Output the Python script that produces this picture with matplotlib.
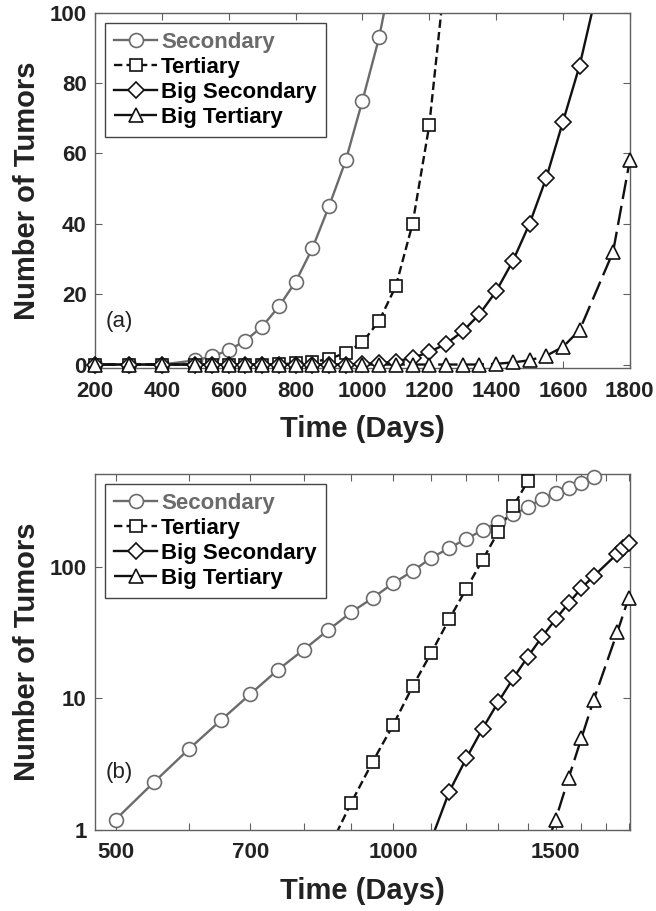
import numpy as np
import matplotlib
matplotlib.use("Agg")
import matplotlib.pyplot as plt
from matplotlib.lines import Line2D

plt.rcParams["font.family"] = ["Liberation Sans", "DejaVu Sans"]
plt.rcParams["lines.scale_dashes"] = False

# ---- data ----
sec_days = [200, 300, 400, 500, 550, 600, 650, 700, 750, 800, 850, 900, 950,
            1000, 1050, 1100, 1150, 1200, 1250, 1300, 1350, 1400, 1450, 1500,
            1550, 1600, 1650, 1700]
sec_vals = [0, 0, 0, 1.2, 2.3, 4.1, 6.8, 10.8, 16.5, 23.5, 33, 45, 58,
            75, 93, 117, 139, 163, 190, 220, 250, 285, 330, 365,
            400, 435, 485, 540]

ter_days = [200, 300, 400, 500, 550, 600, 650, 700, 750, 800, 850, 900, 950,
            1000, 1050, 1100, 1150, 1200, 1250, 1300, 1350, 1400]
ter_vals = [0, 0, 0, 0, 0, 0, 0, 0, 0.1, 0.3, 0.7, 1.6, 3.3,
            6.3, 12.4, 22.3, 40, 68, 113, 185, 290, 450]

bsec_days = [200, 300, 400, 500, 550, 600, 650, 700, 750, 800, 850, 900, 950,
             1000, 1050, 1100, 1150, 1200, 1250, 1300, 1350, 1400, 1450, 1500,
             1550, 1600, 1650, 1750, 1775, 1800]
bsec_vals = [0, 0, 0, 0, 0, 0, 0, 0, 0, 0, 0, 0, 0,
             0.2, 0.4, 0.85, 1.95, 3.5, 5.9, 9.4, 14.3, 20.8, 29.4, 40,
             53, 69, 85, 126, 138, 152]

bter_days = [200, 300, 400, 500, 550, 600, 650, 700, 750, 800, 850, 900, 950,
             1000, 1050, 1100, 1150, 1200, 1250, 1300, 1350, 1400, 1450, 1500,
             1550, 1600, 1650, 1750, 1800]
bter_vals = [0, 0, 0, 0, 0, 0, 0, 0, 0, 0, 0, 0, 0,
             0, 0, 0, 0, 0, 0, 0, 0, 0.2, 0.6, 1.2,
             2.5, 5.0, 9.8, 32, 58]

labels = ["Secondary", "Tertiary", "Big Secondary", "Big Tertiary"]

# ---- styles ----
GRAY = "#6b6b6b"
BLACK = "#111111"
SPINE = "#606060"
styles = [
    dict(color=GRAY, marker="o", ms=10, dashes=None),
    dict(color=BLACK, marker="s", ms=9, dashes=(6, 3)),
    dict(color=BLACK, marker="D", ms=8.5, dashes=None),
    dict(color=BLACK, marker="^", ms=10.5, dashes=(14, 5)),
]
series = [(sec_days, sec_vals), (ter_days, ter_vals),
          (bsec_days, bsec_vals), (bter_days, bter_vals)]


def draw(ax, ylo, yhi):
    for (d, v), st in zip(series, styles):
        d = np.asarray(d, float)
        v = np.asarray(v, float)
        ln, = ax.plot(d, v, color=st["color"], lw=1.7, zorder=2)
        if st["dashes"]:
            ln.set_dashes(st["dashes"])
        # markers are not clipped at the frame, only hidden when off-range
        keep = (v >= ylo) & (v <= yhi)
        ax.plot(d[keep], v[keep], ls="none", marker=st["marker"],
                ms=st["ms"], mfc="white", mec=st["color"], mew=1.2,
                clip_on=False, zorder=3)


def legend(ax):
    handles = []
    for st in styles:
        h = Line2D([], [], color=st["color"], lw=1.7, marker=st["marker"],
                   ms=st["ms"], mfc="white", mec=st["color"], mew=1.2)
        if st["dashes"]:
            h.set_dashes(st["dashes"])
        handles.append(h)
    leg = ax.legend(handles, labels, loc="upper left",
                    prop=dict(size=16, weight="bold"),
                    handlelength=1.9, handletextpad=0.2, labelspacing=0.18,
                    borderpad=0.42, borderaxespad=0.45, fancybox=False,
                    framealpha=1, edgecolor="#444444")
    leg.get_frame().set_linewidth(1.0)
    leg.get_texts()[0].set_color(GRAY)


def style_axes(ax):
    for s in ax.spines.values():
        s.set_color(SPINE)
        s.set_linewidth(1.0)
    ax.tick_params(which="both", direction="in", top=True, right=True,
                   length=5, color=SPINE, labelsize=16)
    ax.tick_params(axis="x", pad=9)
    ax.tick_params(axis="y", pad=6)
    for t in ax.get_xticklabels() + ax.get_yticklabels():
        t.set_fontweight("bold")
        t.set_color("#222222")
    ax.set_xlabel("Time (Days)", fontsize=21, fontweight="bold",
                  color="#222222", labelpad=10)
    ax.set_ylabel("Number of Tumors", fontsize=21, fontweight="bold",
                  color="#222222", labelpad=6)


fig = plt.figure(figsize=(6.56, 9.11), dpi=100)

# (a) linear axes
ax1 = fig.add_axes([0.145, 0.596, 0.815, 0.390])
draw(ax1, -1, 100)
ax1.set_xlim(200, 1800)
ax1.set_ylim(-1, 100)
ax1.set_xticks(range(200, 1801, 200))
ax1.set_yticks(range(0, 101, 20))
style_axes(ax1)
legend(ax1)
ax1.text(0.02, 0.13, "(a)", transform=ax1.transAxes, fontsize=16,
         color="#222222", va="center")

# (b) log-log axes
ax2 = fig.add_axes([0.145, 0.089, 0.815, 0.391])
ax2.set_xscale("log")
ax2.set_yscale("log", nonpositive="mask")
draw(ax2, 1, 510)
ax2.set_xlim(475, 1805)
ax2.set_ylim(1, 510)
xt = list(range(500, 1801, 100))
ax2.set_xticks(xt, [str(x) if x in (500, 700, 1000, 1500) else "" for x in xt])
ax2.set_xticks([], minor=True)
ax2.set_yticks([1, 10, 100], ["1", "10", "100"])
ax2.set_yticks([], minor=True)
style_axes(ax2)
legend(ax2)
ax2.text(0.02, 0.16, "(b)", transform=ax2.transAxes, fontsize=16,
         color="#222222", va="center")

fig.savefig("out.png", dpi=100, facecolor="white")
